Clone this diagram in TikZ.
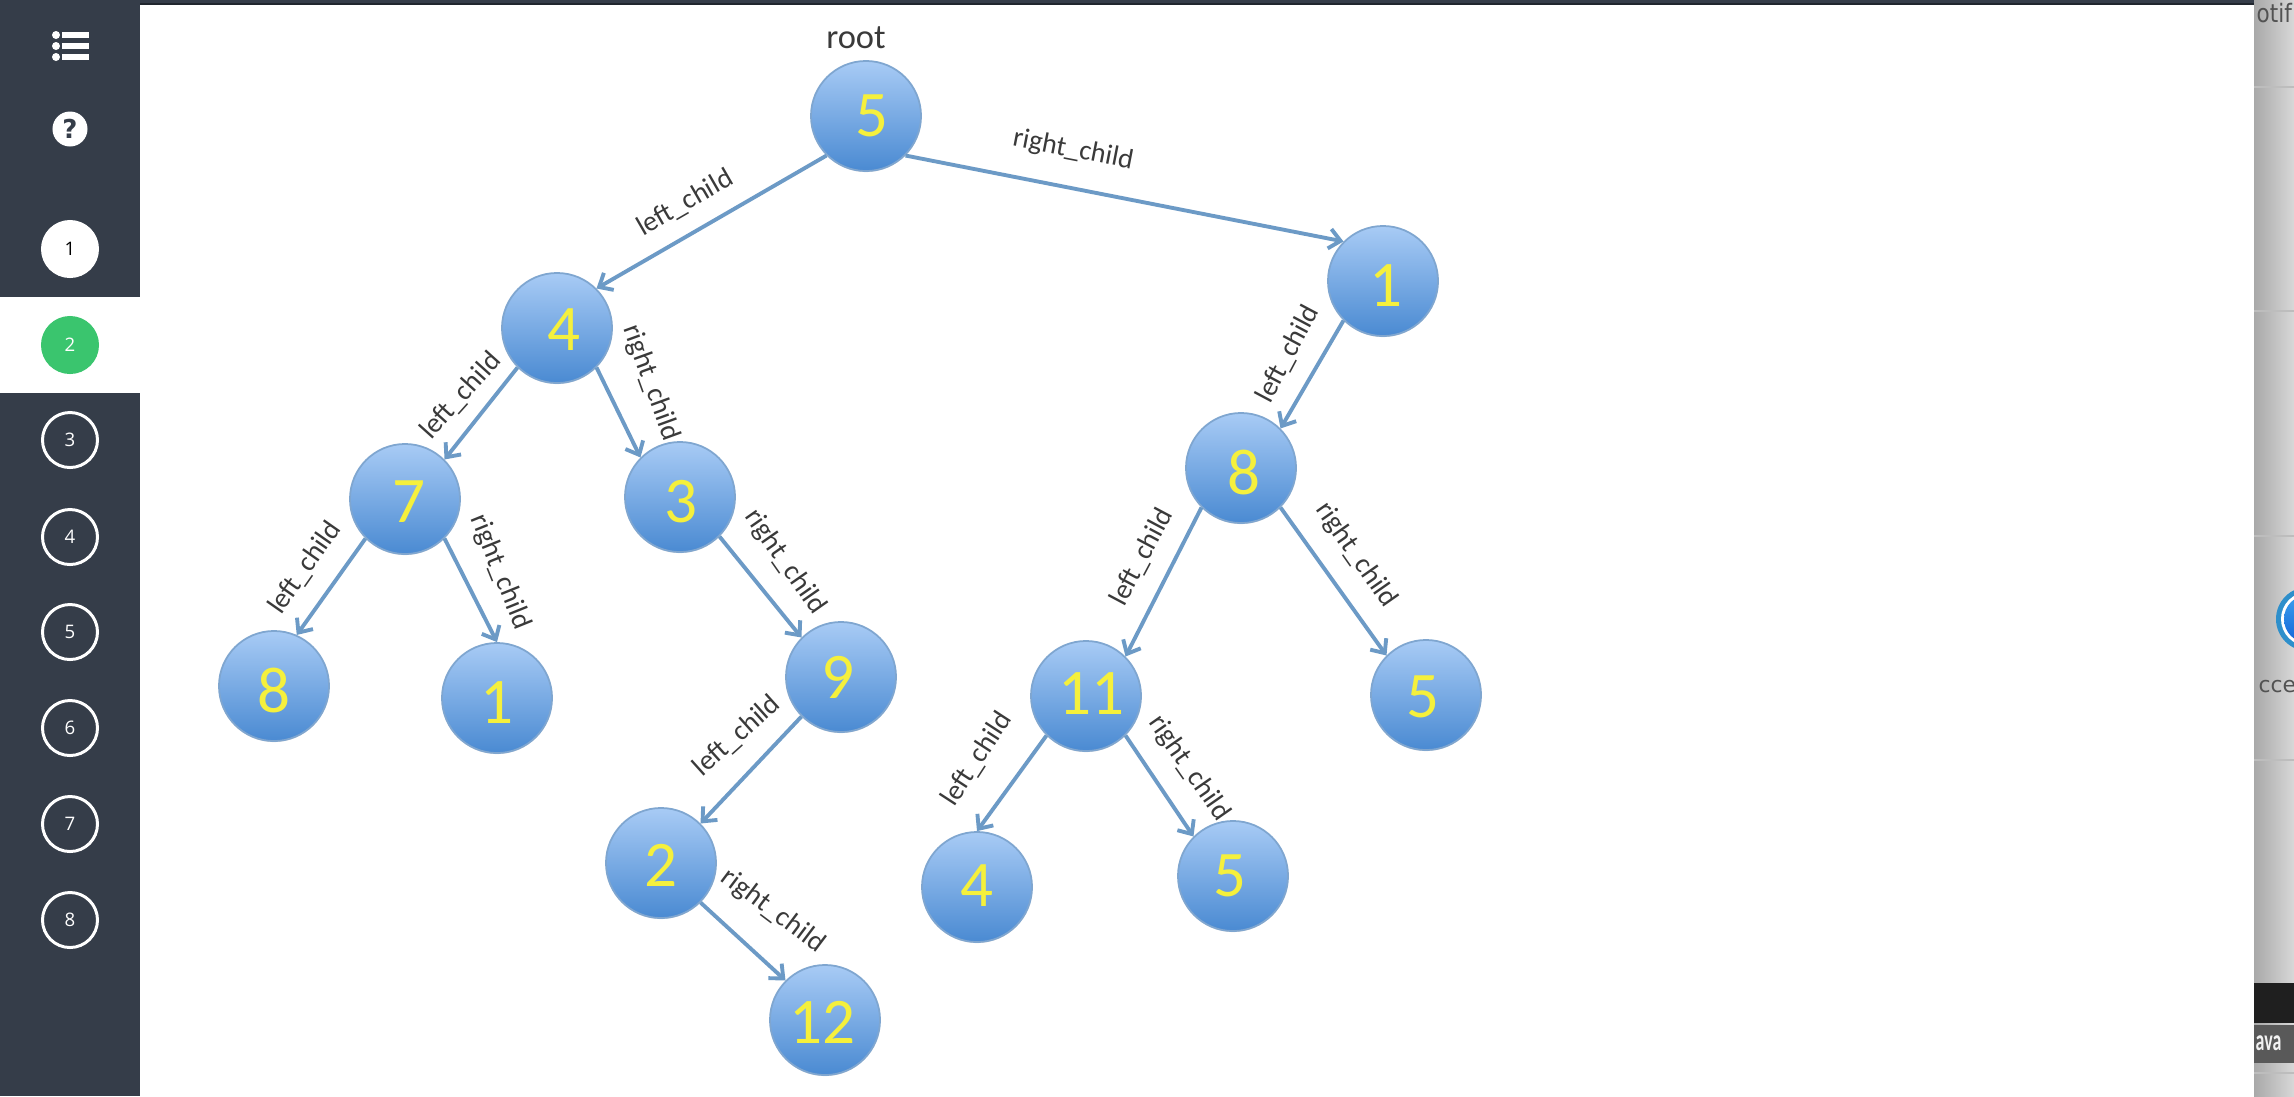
\documentclass[tikz,border=0pt]{standalone}
\usepackage{fontspec}
\usepackage{graphicx}
\setmainfont{Carlito}
\newfontfamily\sidefont{Open Sans}
\newfontfamily\macfont{DejaVu Sans}
\usetikzlibrary{arrows.meta,shadows}
\definecolor{sidedark}{HTML}{353D49}
\definecolor{sideline}{HTML}{20262E}
\definecolor{sidegreen}{HTML}{3AC56E}
\definecolor{nodetop}{HTML}{A8CBF5}
\definecolor{nodebottom}{HTML}{4A8AD2}
\definecolor{nodeline}{HTML}{7FA6D0}
\definecolor{edgeblue}{HTML}{6C9AC6}
\definecolor{digityellow}{HTML}{F5F03C}
\definecolor{labelgrey}{HTML}{3A3A3A}
\definecolor{panelgrey}{HTML}{D8D8D8}
\definecolor{panelline}{HTML}{BDBDBD}
\definecolor{iconring}{HTML}{2E8FCB}
\definecolor{icontop}{HTML}{39A0EE}
\definecolor{iconbottom}{HTML}{1565D8}
\newcommand{\digitshift}[3]{\raisebox{#2}[\height][\depth]{\hspace*{#1}#3\hspace*{-#1}}}
\begin{document}
\begin{tikzpicture}[x=0.01cm,y=-0.01cm]
	\tikzstyle{every node}+=[inner sep=0pt]
	\tikzstyle{treenode}=[circle,minimum size=1.1cm,draw=nodeline,line width=0.5pt,top color=nodetop,bottom color=nodebottom,drop shadow={shadow xshift=0pt,shadow yshift=-0.3pt,opacity=0.3},text=digityellow,font=\fontsize{18.5}{19}\selectfont]
	\tikzstyle{treeedge}=[draw=edgeblue,line width=1.1pt,-{Straight Barb[length=3.2pt,width=5.6pt]}]
	\tikzstyle{childlabel}=[text=labelgrey,font=\fontsize{8}{9}\selectfont]
	\tikzstyle{stepnode}=[circle,minimum size=0.55cm,draw=white,line width=0.85pt,text=white,font=\sidefont\fontsize{5.3}{6}\selectfont]
	\tikzstyle{paneltext}=[anchor=west,text=black!68,font=\macfont\fontsize{6.2}{7}\selectfont]
	\useasboundingbox (0,0) rectangle (2294,1096);
	\fill [white] (0,0) rectangle (2294,1096);
	\fill [sidedark] (0,0) rectangle (140,1096);
	\fill [sidedark] (0,0) rectangle (2254,3);
	\fill [sideline] (140,3) rectangle (2254,4.5);
	\fill [white] (0,297) rectangle (140,393);
	\shade [left color=panelgrey!78!black,right color=panelgrey] (2254,0) rectangle (2294,1096);
	\draw [panelline] (2254,87) -- (2294,87);
	\draw [panelline] (2254,311) -- (2294,311);
	\draw [panelline] (2254,536) -- (2294,536);
	\draw [panelline] (2254,760) -- (2294,760);
	\fill [black!88] (2254,983) rectangle (2294,1023);
	\fill [black!65] (2254,1025) rectangle (2294,1063);
	\draw [panelline] (2254,1073) -- (2294,1073);
	\begin{scope}
		\clip (2254,0) rectangle (2294,1096);
		\fill [iconring] (2308,619) circle (0.32cm);
		\fill [white] (2308,619) circle (0.27cm);
		\shade [top color=icontop,bottom color=iconbottom] (2308,619) circle (0.24cm);
		\node [paneltext,font=\macfont\fontsize{7.2}{8}\selectfont] (panelnotif) at (2256,13) {\scalebox{0.85}[1]{otif}};
		\node [paneltext] (panelacce) at (2258,687) {cce};
		\node [anchor=west,text=black!5,font=\fontsize{8.5}{10}\bfseries\selectfont] (panelava) at (2255,1043) {\scalebox{0.6}[1]{ava}};
	\end{scope}

	\fill [white] (56,35) circle (4);
	\fill [white] (56,46) circle (4);
	\fill [white] (56,57) circle (4);
	\fill [white] (62,32) rectangle (89,38);
	\fill [white] (62,43) rectangle (89,49);
	\fill [white] (62,54) rectangle (89,60);
	\node [circle,minimum size=0.35cm,fill=white,text=sidedark,font=\macfont\bfseries\fontsize{7.4}{8}\selectfont] (helpnode) at (70,129) {?};
	\node [stepnode,fill=white,text=black] (stepone) at (70,249) {1};
	\node [stepnode,draw=sidegreen,fill=sidegreen] (steptwo) at (70,345) {2};
	\node [stepnode] (stepthree) at (70,440) {3};
	\node [stepnode] (stepfour) at (70,537) {4};
	\node [stepnode] (stepfive) at (70,632) {5};
	\node [stepnode] (stepsix) at (70,728) {6};
	\node [stepnode] (stepseven) at (70,824) {7};
	\node [stepnode] (stepeight) at (70,920) {8};

	\node [treenode] (nroot) at (866,116) {\digitshift{1.6pt}{0pt}{5}};
	\node [treenode] (nfour) at (557,328) {\digitshift{2pt}{-0.4pt}{4}};
	\node [treenode] (none) at (1383,281) {\digitshift{0.8pt}{-1.2pt}{1}};
	\node [treenode] (nseven) at (405,499) {\digitshift{1.2pt}{-0.8pt}{7}};
	\node [treenode] (nthree) at (680,497) {\digitshift{0.4pt}{-1.2pt}{3}};
	\node [treenode] (neight) at (1241,468) {\digitshift{0.8pt}{-1.2pt}{8}};
	\node [treenode] (neightleaf) at (274,686) {\digitshift{0pt}{-1.2pt}{8}};
	\node [treenode] (noneleaf) at (497,698) {\digitshift{0pt}{-1.2pt}{1}};
	\node [treenode] (nnine) at (841,677) {\digitshift{-0.8pt}{0pt}{9}};
	\node [treenode] (neleven) at (1086,696) {\digitshift{1.6pt}{0.8pt}{11}};
	\node [treenode] (nfiveright) at (1426,695) {\digitshift{-0.8pt}{-0.4pt}{5}};
	\node [treenode] (ntwo) at (661,863) {\digitshift{0pt}{-0.8pt}{2}};
	\node [treenode] (nfourleaf) at (977,887) {\digitshift{0pt}{0.4pt}{4}};
	\node [treenode] (nfiveleaf) at (1233,876) {\digitshift{-0.8pt}{0pt}{5}};
	\node [treenode] (ntwelve) at (825,1020) {\digitshift{-0.8pt}{-0.8pt}{12}};
	\node [text=labelgrey,font=\fontsize{9.8}{10}\selectfont] (rootlabel) at (856,38) {root};

	\draw [treeedge] (nroot.south west) -- (nfour.45);
	\draw [treeedge] (nroot.south east) -- (none.135);
	\draw [treeedge] (nfour.south west) -- (nseven.45);
	\draw [treeedge] (nfour.south east) -- (nthree.135);
	\draw [treeedge] (nseven.south west) -- (neightleaf.66);
	\draw [treeedge] (nseven.south east) -- (noneleaf.north);
	\draw [treeedge] (nthree.south east) -- (nnine.135);
	\draw [treeedge] (none.south west) -- (neight.45);
	\draw [treeedge] (neight.south west) -- (neleven.45);
	\draw [treeedge] (neight.south east) -- (nfiveright.135);
	\draw [treeedge] (nnine.south west) -- (ntwo.45);
	\draw [treeedge] (neleven.south west) -- (nfourleaf.north);
	\draw [treeedge] (neleven.south east) -- (nfiveleaf.135);
	\draw [treeedge] (ntwo.south east) -- (ntwelve.135);

	\node [childlabel,rotate=30] (labelrootl) at (685,203) {left\_child};
	\node [childlabel,rotate=-11] (labelrootr) at (1073,150) {right\_child};
	\node [childlabel,rotate=48] (labelfourl) at (461,396) {left\_child};
	\node [childlabel,rotate=-70] (labelfourr) at (651,383) {right\_child};
	\node [childlabel,rotate=62] (labeloner) at (1288,354) {left\_child};
	\node [childlabel,rotate=55] (labelsevenl) at (305,568) {left\_child};
	\node [childlabel,rotate=-68] (labelsevenr) at (500,572) {right\_child};
	\node [childlabel,rotate=-55] (labelthreer) at (785,562) {right\_child};
	\node [childlabel,rotate=62] (labeleightl) at (1142,557) {left\_child};
	\node [childlabel,rotate=-55] (labeleightr) at (1356,555) {right\_child};
	\node [childlabel,rotate=42] (labelninel) at (737,736) {left\_child};
	\node [childlabel,rotate=57] (labelelevenl) at (977,759) {left\_child};
	\node [childlabel,rotate=-55] (labelelevenr) at (1189,768) {right\_child};
	\node [childlabel,rotate=-37] (labeltwor) at (773,911) {right\_child};
\end{tikzpicture}
\end{document}
